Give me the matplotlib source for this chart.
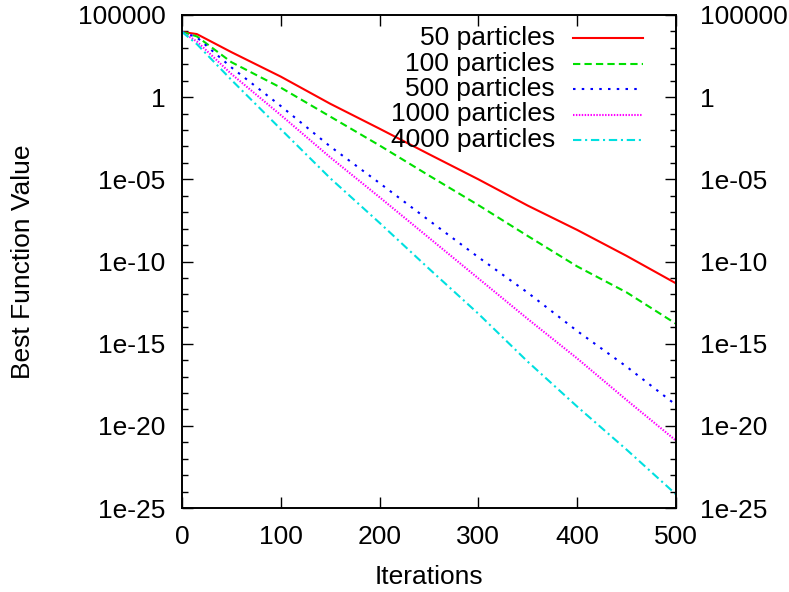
import matplotlib
matplotlib.use("Agg")
import matplotlib.pyplot as plt
import numpy as np
from matplotlib.ticker import FixedLocator, NullFormatter

plt.rcParams['font.family'] = ['Liberation Sans', 'DejaVu Sans']

iterations = [0, 15, 50, 100, 150, 200, 250, 300, 350, 400, 450, 500]

# log10 of the best function value at each iteration
log_50 = [3.97, 3.84, 2.74, 1.25, -0.40, -1.92, -3.47, -5.00, -6.60, -8.08, -9.66, -11.33]
log_100 = [3.97, 3.70, 2.13, 0.58, -1.18, -2.94, -4.77, -6.57, -8.45, -10.30, -11.88, -13.79]
log_500 = [3.97, 3.64, 1.81, -0.54, -3.00, -5.23, -7.50, -9.74, -11.90, -14.23, -16.40, -18.73]
log_1000 = [3.97, 3.39, 1.41, -1.09, -3.66, -6.09, -8.56, -11.03, -13.50, -15.90, -18.43, -20.90]
log_4000 = [3.97, 3.23, 1.05, -1.95, -4.93, -7.65, -10.44, -13.18, -16.10, -18.83, -21.45, -24.17]

labels = ["50 particles", "100 particles", "500 particles", "1000 particles", "4000 particles"]
series = [log_50, log_100, log_500, log_1000, log_4000]
colors = ["#ff0000", "#00e000", "#0000ff", "#ff00ff", "#00e0e0"]
dashes = [None, (3.5, 2.0), (1.2, 3.0), (0.7, 0.7), (4.0, 1.8, 1.0, 1.8)]

y_ticks = [1e5, 1, 1e-5, 1e-10, 1e-15, 1e-20, 1e-25]
y_tick_labels = ["100000", "1", "1e-05", "1e-10", "1e-15", "1e-20", "1e-25"]
y_minor = [10.0 ** e for e in range(-25, 6)]
x_ticks = [0, 100, 200, 300, 400, 500]

W, H = 789, 592
fig = plt.figure(figsize=(W / 100, H / 100), dpi=100)
ax_l, ax_r, ax_t, ax_b = 182, 676, 15, 508
ax = fig.add_axes([ax_l / W, 1 - ax_b / H, (ax_r - ax_l) / W, (ax_b - ax_t) / H])

fs = 19
lines = []
for vals, lab, col, ds in zip(series, labels, colors, dashes):
    y = 10.0 ** np.array(vals)
    line, = ax.plot(iterations, y, color=col, lw=1.5)
    if ds is not None:
        line.set_dashes(ds)
    lines.append(line)

def setup_y(a):
    a.set_yscale('log')
    a.set_ylim(1e-25, 1e5)
    a.yaxis.set_major_locator(FixedLocator(y_ticks))
    a.set_yticklabels(y_tick_labels)
    a.yaxis.set_minor_locator(FixedLocator(y_minor))
    a.yaxis.set_minor_formatter(NullFormatter())

setup_y(ax)
ax.set_xlim(0, 500)
ax.set_xticks(x_ticks)
ax.tick_params(axis='x', which='major', direction='in', length=8, width=1,
               labelsize=fs, top=True, pad=12)
ax.tick_params(axis='x', which='minor', bottom=False, top=False)
ax.tick_params(axis='y', which='major', direction='in', length=8, width=1,
               labelsize=fs, left=True, right=False, pad=12)
ax.tick_params(axis='y', which='minor', direction='in', length=4, width=1,
               left=True, right=False)

# mirrored right-hand axis with its own label spacing
ax2 = ax.twinx()
setup_y(ax2)
ax2.tick_params(axis='y', which='major', direction='in', length=8, width=1,
                labelsize=fs, pad=17)
ax2.tick_params(axis='y', which='minor', direction='in', length=4, width=1)

for a in (ax, ax2):
    for s in a.spines.values():
        s.set_linewidth(1.2)

fig.text(((ax_l + ax_r) / 2) / W, 1 - 577 / H, "Iterations", fontsize=fs,
         ha='center', va='center')
fig.text(23 / W, 1 - 262 / H, "Best Function Value", fontsize=fs,
         ha='center', va='center', rotation=90)

# key, right-aligned text with sample lines to its right
row0, row_step = 38, 25.5
for i, (line, lab) in enumerate(zip(lines, labels)):
    yp = (ax_b - (row0 + row_step * i)) / (ax_b - ax_t)
    x0 = (573 - ax_l) / (ax_r - ax_l)
    x1 = (643 - ax_l) / (ax_r - ax_l)
    key, = ax.plot([x0, x1], [yp, yp], transform=ax.transAxes, color=line.get_color(),
                   lw=1.5, clip_on=False)
    if dashes[i] is not None:
        key.set_dashes(dashes[i])
    ax.text((555 - ax_l) / (ax_r - ax_l), yp, lab, transform=ax.transAxes,
            fontsize=fs, ha='right', va='center')

fig.savefig("out.png", dpi=100)
